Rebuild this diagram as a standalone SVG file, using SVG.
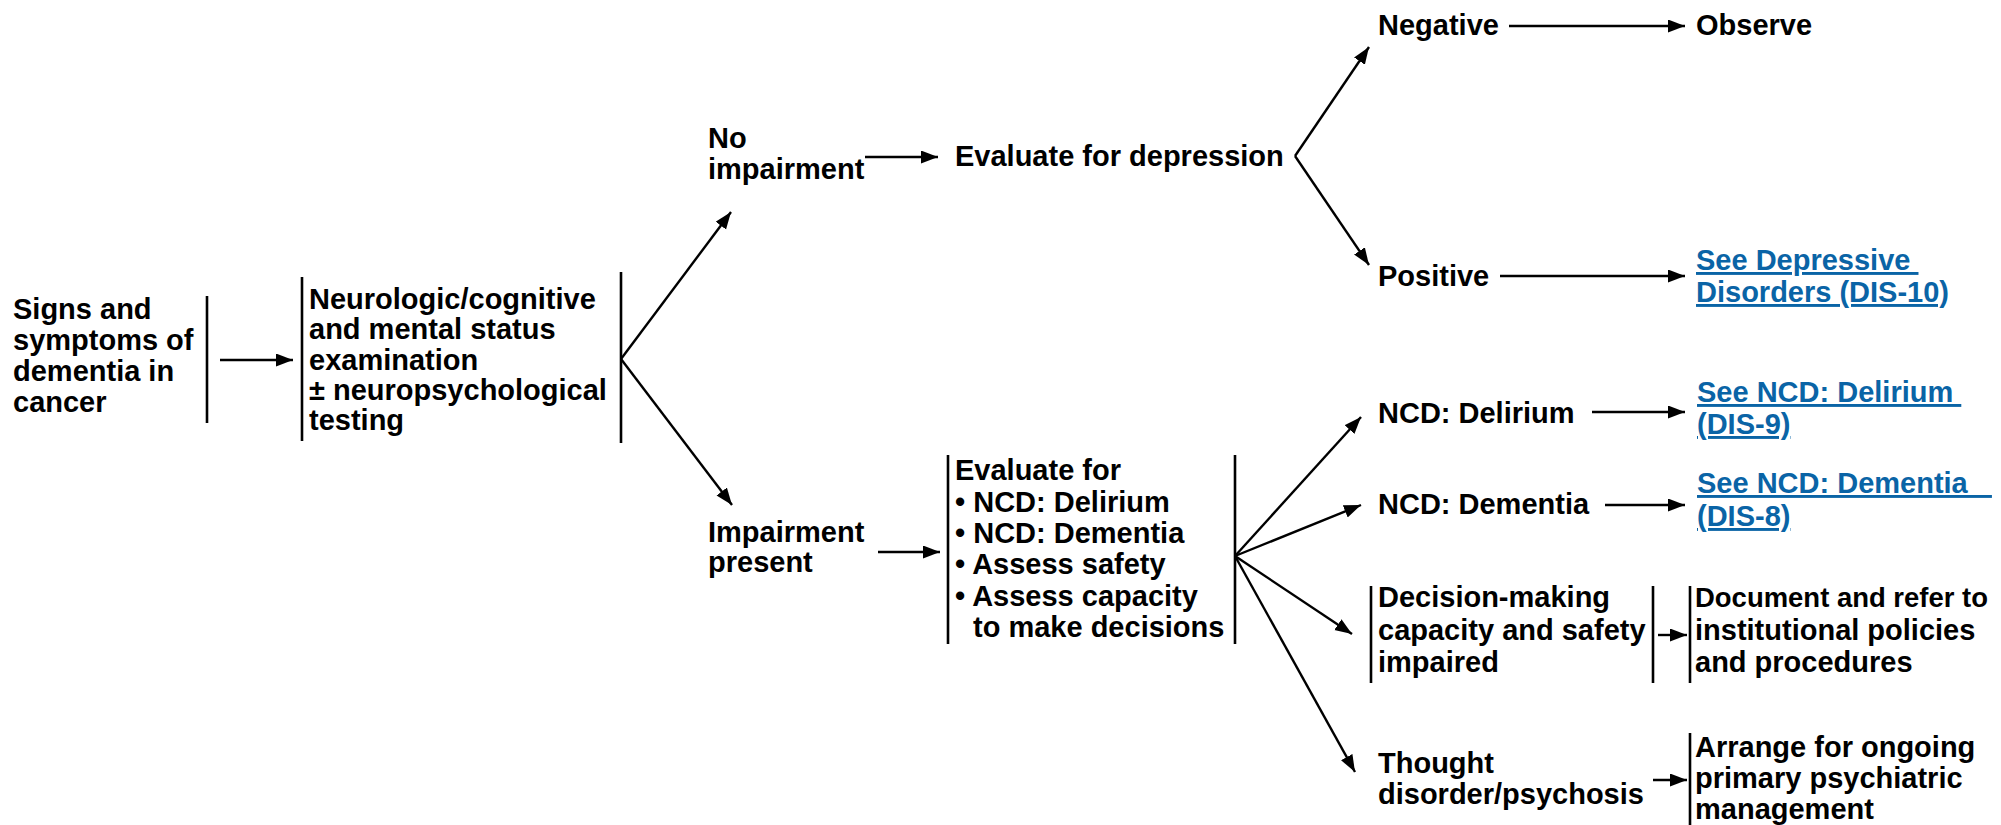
<svg xmlns="http://www.w3.org/2000/svg" width="2001" height="825" viewBox="0 0 2001 825">
<style>
text{font-family:"Liberation Sans",Arial,Helvetica,sans-serif;font-weight:bold;font-size:29px;fill:#000}
.lnk{fill:#0a64a6;text-decoration:underline}
.bar{stroke:#000;stroke-width:2.6;fill:none}
.con{stroke:#000;stroke-width:2.4;fill:none;marker-end:url(#ah)}
</style>
<defs>
<marker id="ah" markerUnits="userSpaceOnUse" markerWidth="19" markerHeight="14" refX="17" refY="6.5" orient="auto">
<path d="M0,0 L17,6.5 L0,13 Z" fill="#000"/>
</marker>
</defs>
<rect width="2001" height="825" fill="#fff"/>

<g id="n-signs">
<text><tspan x="13" y="319">Signs and</tspan><tspan x="13" y="350">symptoms of</tspan><tspan x="13" y="381">dementia in</tspan><tspan x="13" y="412">cancer</tspan></text>
<line class="bar" x1="207" y1="296" x2="207" y2="423"/>
</g>

<g id="n-exam">
<line class="bar" x1="302" y1="277" x2="302" y2="441"/>
<text><tspan x="309" y="309">Neurologic/cognitive</tspan><tspan x="309" y="339">and mental status</tspan><tspan x="309" y="370">examination</tspan><tspan x="309" y="400">± neuropsychological</tspan><tspan x="309" y="430">testing</tspan></text>
<line class="bar" x1="621" y1="272" x2="621" y2="443"/>
</g>

<g id="n-noimp">
<text><tspan x="708" y="148">No</tspan><tspan x="708" y="179">impairment</tspan></text>
</g>

<g id="n-evaldep">
<text x="955" y="166">Evaluate for depression</text>
</g>

<g id="n-neg"><text x="1378" y="35">Negative</text></g>
<g id="n-obs"><text x="1696" y="35">Observe</text></g>
<g id="n-pos"><text x="1378" y="286">Positive</text></g>
<g id="n-dis10">
<text class="lnk" xml:space="preserve"><tspan x="1696" y="270">See Depressive </tspan><tspan x="1696" y="302">Disorders (DIS-10)</tspan></text>
</g>

<g id="n-imp">
<text><tspan x="708" y="542">Impairment</tspan><tspan x="708" y="572">present</tspan></text>
</g>

<g id="n-evalfor">
<line class="bar" x1="948" y1="455" x2="948" y2="644"/>
<text><tspan x="955" y="480">Evaluate for</tspan><tspan x="955" y="512">• NCD: Delirium</tspan><tspan x="955" y="543">• NCD: Dementia</tspan><tspan x="955" y="574">• Assess safety</tspan><tspan x="955" y="606">• Assess capacity</tspan><tspan x="973" y="637">to make decisions</tspan></text>
<line class="bar" x1="1235" y1="455" x2="1235" y2="644"/>
</g>

<g id="n-delirium"><text x="1378" y="423">NCD: Delirium</text></g>
<g id="n-dis9">
<text class="lnk" xml:space="preserve"><tspan x="1697" y="402">See NCD: Delirium </tspan><tspan x="1697" y="434">(DIS-9)</tspan></text>
</g>
<g id="n-dementia"><text x="1378" y="514">NCD: Dementia</text></g>
<g id="n-dis8">
<text class="lnk" xml:space="preserve"><tspan x="1697" y="493">See NCD: Dementia   </tspan><tspan x="1697" y="526">(DIS-8)</tspan></text>
</g>

<g id="n-decision">
<line class="bar" x1="1371" y1="586" x2="1371" y2="683"/>
<text><tspan x="1378" y="607">Decision-making</tspan><tspan x="1378" y="640">capacity and safety</tspan><tspan x="1378" y="672">impaired</tspan></text>
<line class="bar" x1="1653" y1="586" x2="1653" y2="683"/>
</g>

<g id="n-document">
<line class="bar" x1="1690" y1="586" x2="1690" y2="683"/>
<text x="1695" y="607" style="font-size:28px" textLength="293" lengthAdjust="spacingAndGlyphs">Document and refer to</text>
<text><tspan x="1695" y="640">institutional policies</tspan><tspan x="1695" y="672">and procedures</tspan></text>
</g>

<g id="n-thought">
<text><tspan x="1378" y="773">Thought</tspan><tspan x="1378" y="804">disorder/psychosis</tspan></text>
</g>

<g id="n-arrange">
<line class="bar" x1="1690" y1="733" x2="1690" y2="825"/>
<text><tspan x="1695" y="757">Arrange for ongoing</tspan><tspan x="1695" y="788">primary psychiatric</tspan><tspan x="1695" y="819">management</tspan></text>
</g>

<g id="connectors">
<line class="con" x1="220" y1="360" x2="293" y2="360"/>
<line class="con" x1="621" y1="359" x2="731" y2="212"/>
<line class="con" x1="621" y1="359" x2="732" y2="505"/>
<line class="con" x1="865" y1="157" x2="938" y2="157"/>
<line class="con" x1="878" y1="552" x2="940" y2="552"/>
<line class="con" x1="1295" y1="156" x2="1369" y2="47"/>
<line class="con" x1="1295" y1="156" x2="1369" y2="265"/>
<line class="con" x1="1509" y1="26" x2="1685" y2="26"/>
<line class="con" x1="1500" y1="276" x2="1685" y2="276"/>
<line class="con" x1="1235" y1="556" x2="1361" y2="417"/>
<line class="con" x1="1235" y1="556" x2="1361" y2="505"/>
<line class="con" x1="1235" y1="556" x2="1352" y2="634"/>
<line class="con" x1="1235" y1="556" x2="1355" y2="772"/>
<line class="con" x1="1592" y1="412" x2="1685" y2="412"/>
<line class="con" x1="1605" y1="505" x2="1685" y2="505"/>
<line class="con" x1="1658" y1="635" x2="1687" y2="635"/>
<line class="con" x1="1653" y1="780" x2="1687" y2="780"/>
</g>
</svg>
